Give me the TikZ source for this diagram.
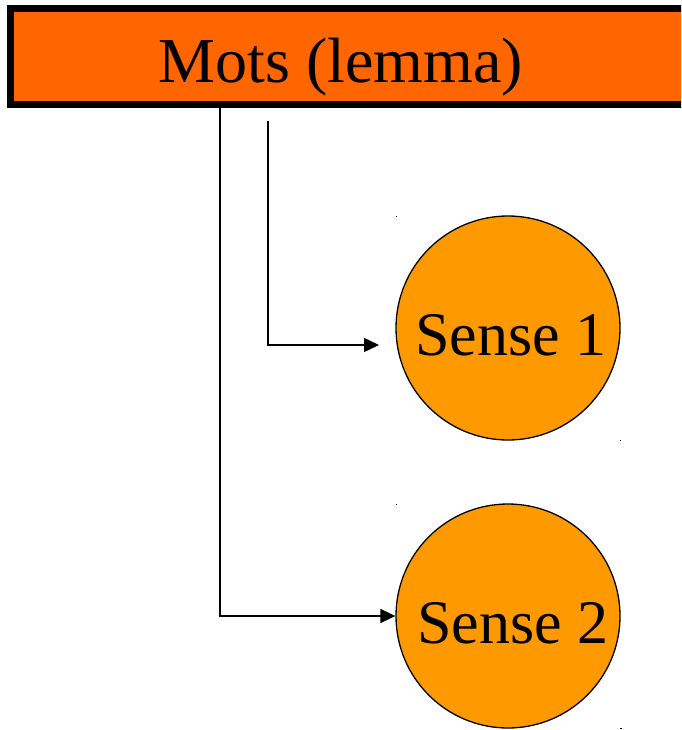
\documentclass[tikz,border=0pt]{standalone}
\usepackage{fontspec}
\setmainfont{Liberation Serif}
\usetikzlibrary{arrows.meta}
\definecolor{boxorange}{HTML}{FF6600}
\definecolor{senseorange}{HTML}{FF9900}
\tikzset{
  titlebox/.style={draw=black, line width=7pt, fill=boxorange, rectangle,
    minimum width=690pt, minimum height=96pt, inner sep=0pt},
  titletext/.style={font=\fontsize{64}{76}\selectfont, inner sep=0pt, anchor=base},
  sense/.style={circle, draw=black, line width=1.3pt, fill=senseorange,
    minimum size=224pt, inner sep=0pt},
  sensetext/.style={font=\fontsize{62}{74}\selectfont, inner sep=0pt, anchor=base},
  conn/.style={draw=black, line width=1.5pt, -{Triangle[length=15pt,width=14pt]}},
  speck/.style={fill=black}
}
\begin{document}
\begin{tikzpicture}[x=1pt,y=-1pt]
  \useasboundingbox (0,0) rectangle (681,730);
  \fill[white] (0,0) rectangle (681,730);
  \clip (0,0) rectangle (681,730);
  \node[titlebox] (motsbox) at (355,56.5) {};
  \node[titletext] (mots) at (341,83) {Mots (lemma)};
  \node[sense] (s1) at (508,328) {};
  \node[sensetext] (s1text) at (511,355) {Sense 1};
  \node[sense] (s2) at (508,616) {};
  \node[sensetext] (s2text) at (513,643) {Sense 2};
  \fill[speck] (395.5,215.5) rectangle (397,217);
  \fill[speck] (619.5,439.5) rectangle (621,441);
  \fill[speck] (395.5,503.5) rectangle (397,505);
  \fill[speck] (620,727.5) rectangle (621.5,729);
  \coordinate (a1) at (268,121);
  \coordinate (b1) at (379,345);
  \coordinate (a2) at (220,108);
  \draw[conn] (a1) |- (b1);
  \draw[conn] (a2) |- (s2);
\end{tikzpicture}
\end{document}
